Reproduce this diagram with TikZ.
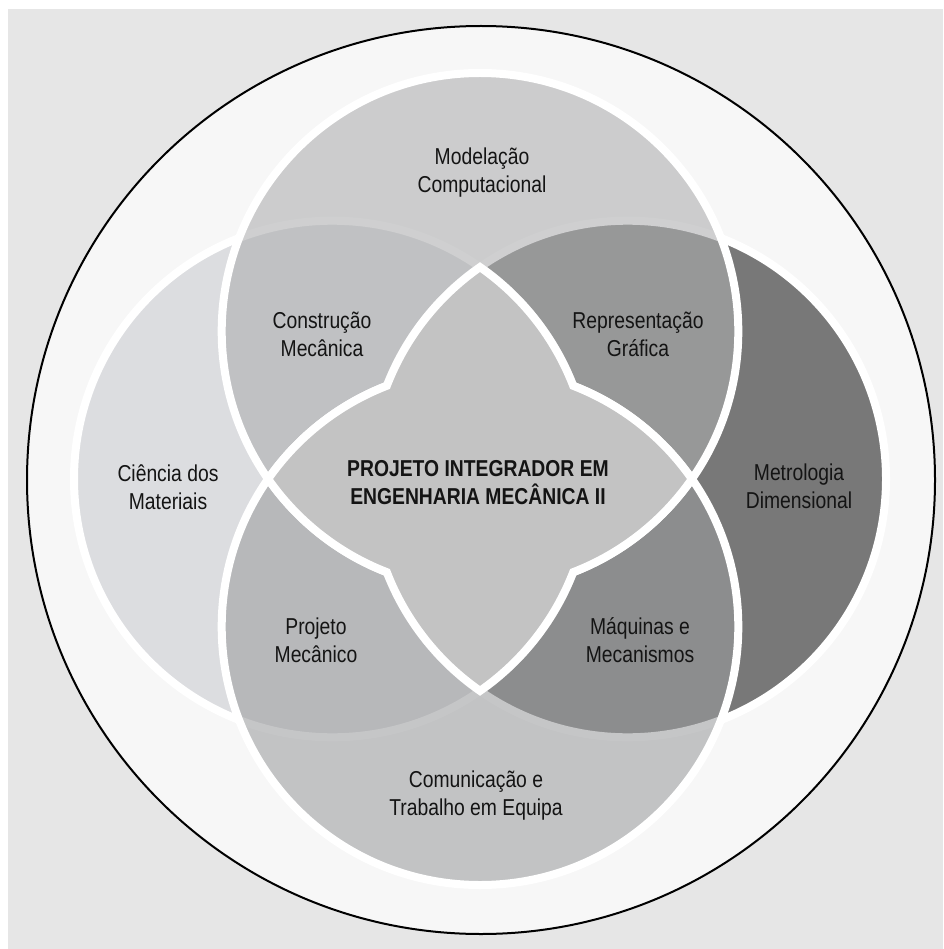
\documentclass[tikz,border=0pt]{standalone}
\usepackage{fontspec}
\setmainfont{Liberation Sans}[FakeStretch=0.84]
\begin{document}
\begin{tikzpicture}[x=1pt,y=1pt,
  vtext/.style={align=center, font=\fontsize{23}{28}\selectfont, text=textcol, inner sep=0pt},
  ctext/.style={vtext, font=\fontsize{23}{28}\selectfont\bfseries},
  wline/.style={draw=white, line width=8pt}]
\definecolor{bggray}{RGB}{230,230,230}
\definecolor{ringfill}{RGB}{247,247,247}
\definecolor{leftfill}{RGB}{220,221,224}
\definecolor{rightfill}{RGB}{120,120,120}
\definecolor{topfill}{RGB}{174,175,176}
\definecolor{botfill}{RGB}{156,157,159}
\definecolor{centerfill}{RGB}{195,195,195}
\definecolor{textcol}{RGB}{20,20,20}
\useasboundingbox (0,0) rectangle (943,-949);
\fill[white] (0,0) rectangle (943,-949);
\fill[bggray] (8,-9) rectangle (943,-949);
\begin{scope}[shift={(480,-479)}]
  \def\vennd{147.7}
  \def\vennr{258.3}
  % outer ring
  \fill[ringfill] (1,-1) circle[radius=454];
  \draw[black, line width=2pt] (1,-1) circle[radius=454];
  % left and right circles
  \fill[leftfill] (-\vennd,0) circle[radius=\vennr];
  \fill[rightfill] (\vennd,0) circle[radius=\vennr];
  \draw[wline] (-\vennd,0) circle[radius=\vennr];
  \draw[wline] (\vennd,0) circle[radius=\vennr];
  % top and bottom circles, translucent
  \fill[topfill, fill opacity=0.59] (0,\vennd) circle[radius=\vennr];
  \fill[botfill, fill opacity=0.575] (0,-\vennd) circle[radius=\vennr];
  \draw[wline] (0,\vennd) circle[radius=\vennr];
  \draw[wline] (0,-\vennd) circle[radius=\vennr];
  % central region: union of the two lenses
  \draw[wline, fill=centerfill, line join=miter]
    (0,211.9)
    arc[start angle=124.88, end angle=158.85, radius=\vennr]
    arc[start angle=111.15, end angle=145.12, radius=\vennr]
    arc[start angle=214.88, end angle=248.85, radius=\vennr]
    arc[start angle=201.15, end angle=235.12, radius=\vennr]
    arc[start angle=304.88, end angle=338.85, radius=\vennr]
    arc[start angle=291.15, end angle=325.12, radius=\vennr]
    arc[start angle=34.88, end angle=68.85, radius=\vennr]
    arc[start angle=21.15, end angle=55.12, radius=\vennr]
    -- cycle;
\end{scope}
% labels
\node[vtext] (modelacao) at (482,-173) {Modelação\\Computacional};
\node[vtext] (construcao) at (322,-334) {Construção\\Mecânica};
\node[vtext] (representacao) at (638,-334) {Representação\\Gráfica};
\node[vtext] (ciencia) at (168,-487) {Ciência dos\\Materiais};
\node[ctext] (centro) at (478,-483) {PROJETO INTEGRADOR EM\\ENGENHARIA MECÂNICA II};
\node[vtext] (metrologia) at (799,-486) {Metrologia\\Dimensional};
\node[vtext] (projeto) at (316,-640) {Projeto\\Mecânico};
\node[vtext] (maquinas) at (640,-640) {Máquinas e\\Mecanismos};
\node[vtext] (comunicacao) at (476,-796) {Comunicação e\\Trabalho em Equipa};
\end{tikzpicture}
\end{document}
